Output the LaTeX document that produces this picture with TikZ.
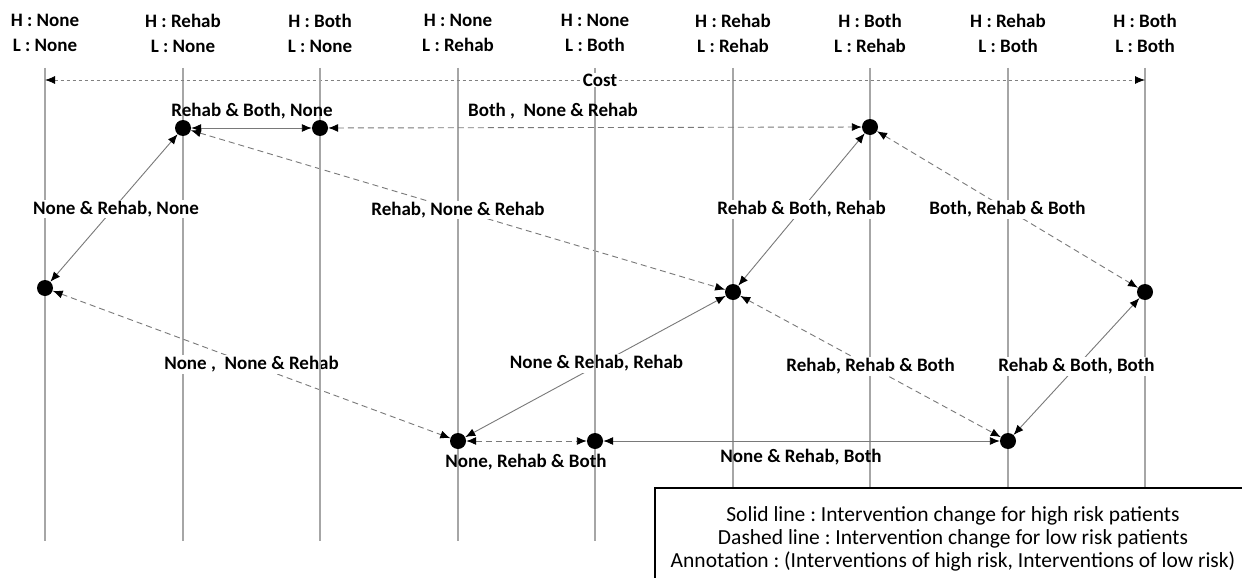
\documentclass[tikz,border=0pt]{standalone}
\usepackage{fontspec}
\setmainfont{Carlito}
\usetikzlibrary{arrows.meta,calc}

\pgfdeclarelayer{bg}
\pgfdeclarelayer{labels}
\pgfdeclarelayer{over}
\pgfsetlayers{bg,labels,over,main}

\tikzset{
  lane/.style={draw=gray!70, line width=1.1pt},
  dot/.style={circle, fill=black, minimum size=16pt, inner sep=0pt},
  tips/.style={{Latex[length=10pt,width=8pt,black]}-{Latex[length=10pt,width=8pt,black]}},
  high/.style={tips, draw=gray!95!black, line width=0.9pt},
  low/.style={tips, draw=gray!95!black, line width=0.9pt, dash pattern=on 6pt off 4pt},
  costline/.style={tips, draw=gray, line width=0.8pt, dash pattern=on 3.5pt off 2.5pt},
  head/.style={font=\bfseries\fontsize{19}{25}\selectfont, align=center, inner sep=0pt},
  lbl/.style={font=\bfseries\fontsize{19}{22}\selectfont, fill=white, inner sep=1.5pt},
  plainlbl/.style={font=\bfseries\fontsize{19}{22}\selectfont, inner sep=1pt},
  legend/.style={draw=black, line width=1.5pt, fill=white},
  legendtext/.style={font=\fontsize{21.5}{23}\selectfont, align=center, inner sep=0pt}
}

\begin{document}
\frenchspacing
\begin{tikzpicture}[x=1pt, y=-1pt]
\useasboundingbox (0,0) rectangle (1242,578);
\clip (0,0) rectangle (1242,578);

% column headers
\node[head] (h1) at (45,33)   {H : None\\L : None};
\node[head] (h2) at (183,33)  {H : Rehab\\L : None};
\node[head] (h3) at (320,33)  {H : Both\\L : None};
\node[head] (h4) at (458,33)  {H : None\\L : Rehab};
\node[head] (h5) at (595,33)  {H : None\\L : Both};
\node[head] (h6) at (733,33)  {H : Rehab\\L : Rehab};
\node[head] (h7) at (870,33)  {H : Both\\L : Rehab};
\node[head] (h8) at (1008,33) {H : Rehab\\L : Both};
\node[head] (h9) at (1145,33) {H : Both\\L : Both};

% lane end points
\foreach \i/\x in {1/45,2/183,3/320,4/458,5/595,6/733,7/870,8/1008,9/1145}{
  \coordinate (t\i) at (\x,68);
  \coordinate (b\i) at (\x,541);
}

% states
\node[dot] (A) at (45,288)  {};
\node[dot] (B) at (183,128) {};
\node[dot] (C) at (320,128) {};
\node[dot] (D) at (870,127) {};
\node[dot] (E) at (733,292) {};
\node[dot] (F) at (1145,292) {};
\node[dot] (G) at (458,441) {};
\node[dot] (H) at (595,441) {};
\node[dot] (I) at (1008,441) {};

\begin{pgfonlayer}{bg}
  \fill[white] (0,0) rectangle (1242,578);
  \foreach \i in {1,2,4,6,7,8,9}{ \draw[lane] (t\i) -- (b\i); }
  % high risk changes
  \draw[high] (A) -- (B);
  \draw[high] (B) -- (C);
  \draw[high] (G) -- (E);
  \draw[high] (E) -- (D);
  \draw[high] (H) -- (I);
  \draw[high] (I) -- (F);
  % low risk changes
  \draw[low] (C) -- (D);
  \draw[low] (B) -- (E);
  \draw[low] (A) -- (G);
  \draw[low] (D) -- (F);
  \draw[low] (E) -- (I);
  \draw[low] (G) -- (H);
  % cost axis
  \coordinate (c1) at (45,80);
  \coordinate (c2) at (1145,80);
  \draw[costline] (c1) -- (c2);
\end{pgfonlayer}

\begin{pgfonlayer}{labels}
  \node[lbl] (lAB) at ($(A)!0.5!(B)+(2,1)$) {None \& Rehab, None};
  \node[lbl] (lBE) at ($(B)!0.5!(E)$) {Rehab, None \& Rehab};
  \node[lbl] (lED) at ($(E)!0.5!(D)$) {Rehab \& Both, Rehab};
  \node[lbl] (lDF) at ($(D)!0.5!(F)$) {Both, Rehab \& Both};
  \node[lbl] (lAG) at ($(A)!0.5!(G)$) {None ,~ None \& Rehab};
  \node[lbl] (lGE) at ($(G)!0.5!(E)+(1,-3)$) {None \& Rehab, Rehab};
  \node[lbl] (lEI) at ($(E)!0.5!(I)$) {Rehab, Rehab \& Both};
  \node[lbl] (lIF) at ($(I)!0.5!(F)$) {Rehab \& Both, Both};
\end{pgfonlayer}

\begin{pgfonlayer}{over}
  \foreach \i in {3,5}{ \draw[lane] (t\i) -- (b\i); }
\end{pgfonlayer}

% labels beside the horizontal changes
\node[plainlbl] (lBC) at (252,111) {Rehab \& Both, None};
\node[plainlbl] (lCD) at (553,111) {Both ,~ None \& Rehab};
\node[plainlbl] (lGH) at (526,462) {None, Rehab \& Both};
\node[plainlbl] (lHI) at (801,457) {None \& Rehab, Both};

\node[lbl, inner sep=1pt] (cost) at (600,80) {Cost};

% legend
\draw[legend] (655,488) rectangle (1262,600);
\node[legendtext] (key) at (953,539) {Solid line : Intervention change for high risk patients\\
Dashed line : Intervention change for low risk patients\\
Annotation : (Interventions of high risk, Interventions of low risk)};
\end{tikzpicture}
\end{document}
